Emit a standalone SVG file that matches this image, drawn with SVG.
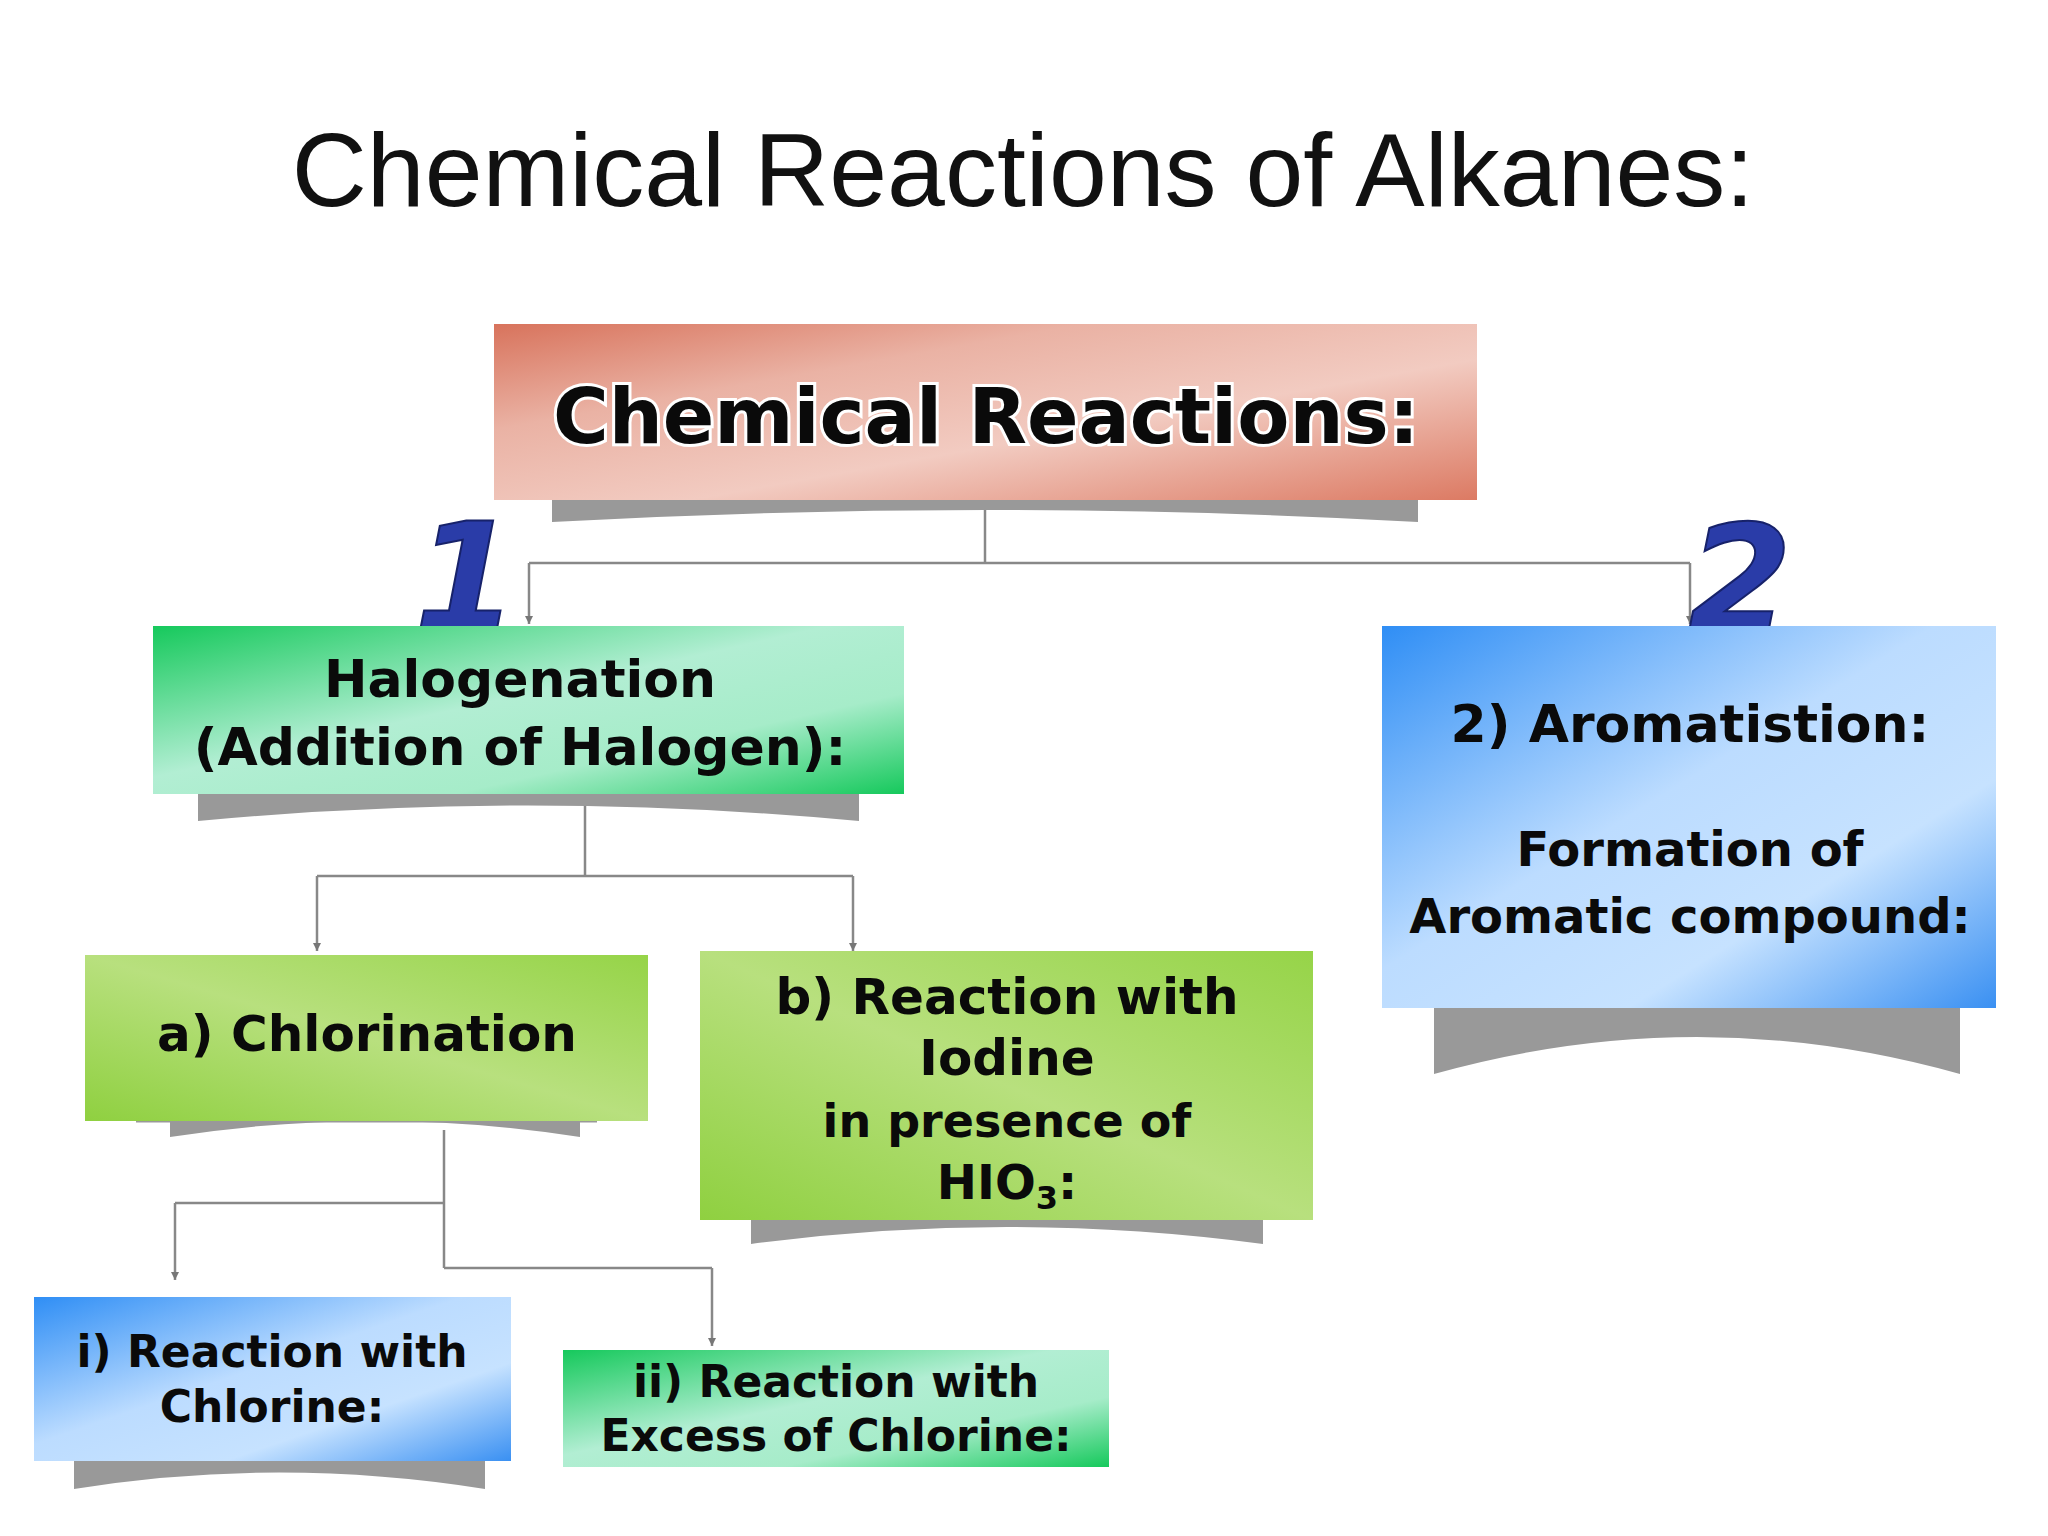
<svg xmlns="http://www.w3.org/2000/svg" width="2048" height="1536" viewBox="0 0 2048 1536">
<defs>
<linearGradient id="gRed" x1="0" y1="0" x2="1" y2="1"><stop offset="0" stop-color="#d8735c"/><stop offset="0.3" stop-color="#eab2a4"/><stop offset="0.6" stop-color="#f2cbc1"/><stop offset="1" stop-color="#dc7a63"/></linearGradient>
<linearGradient id="gGreen" x1="0" y1="0" x2="1" y2="1"><stop offset="0" stop-color="#16c95c"/><stop offset="0.45" stop-color="#b2eed3"/><stop offset="0.7" stop-color="#a6ecc9"/><stop offset="1" stop-color="#16c95c"/></linearGradient>
<linearGradient id="gLime" x1="0" y1="0" x2="1" y2="1"><stop offset="0" stop-color="#d8f0b0"/><stop offset="0.5" stop-color="#a6da5c"/><stop offset="1" stop-color="#dcf2be"/></linearGradient>
<linearGradient id="gLime2" x1="1" y1="0" x2="0" y2="1"><stop offset="0" stop-color="#96d448"/><stop offset="0.5" stop-color="#b8e07e"/><stop offset="1" stop-color="#8fd040"/></linearGradient>
<linearGradient id="gBlue" x1="0" y1="0" x2="1" y2="1"><stop offset="0" stop-color="#2f8ef5"/><stop offset="0.45" stop-color="#bcdcff"/><stop offset="0.7" stop-color="#c6e2ff"/><stop offset="1" stop-color="#3a90f2"/></linearGradient>
<marker id="arr" viewBox="0 0 10 10" refX="10" refY="5" markerWidth="8" markerHeight="8" orient="auto" markerUnits="userSpaceOnUse"><path d="M0,0 L10,5 L0,10 z" fill="#777"/></marker>
</defs>
<style>
.t{font-family:"DejaVu Sans",Verdana,sans-serif;font-weight:bold;fill:#0a0a0a;text-anchor:middle}
.sh{fill:#999}
.c{fill:none;stroke:#888;stroke-width:2.5}
.num{font-family:"DejaVu Sans",sans-serif;font-weight:bold;font-style:italic;fill:#2a3ca8;stroke:#17226a;stroke-width:2;text-anchor:middle}
</style>
<rect width="2048" height="1536" fill="#fff"/>
<text x="1023" y="206" font-family="Liberation Sans, Arial, sans-serif" font-size="104" text-anchor="middle" fill="#111">Chemical Reactions of Alkanes:</text>
<g id="connectors">
<path class="c" d="M985,500 V563"/>
<path class="c" d="M529,563 H1690"/>
<path class="c" d="M529,563 V624" marker-end="url(#arr)"/>
<path class="c" d="M1690,563 V624" marker-end="url(#arr)"/>
<path class="c" d="M585,802 V876 M317,876 H853"/>
<path class="c" d="M317,876 V951" marker-end="url(#arr)"/>
<path class="c" d="M853,876 V951" marker-end="url(#arr)"/>
<path class="c" d="M444,1130 V1268 M444,1203 H175 M444,1268 H712"/>
<path class="c" d="M175,1203 V1280" marker-end="url(#arr)"/>
<path class="c" d="M712,1268 V1346" marker-end="url(#arr)"/>
</g>
<g id="n1"><text class="num" x="466" y="630" font-size="150">1</text></g>
<g id="n2"><text class="num" x="1740" y="632" font-size="150">2</text></g>
<g id="main">
<path class="sh" d="M552,500 H1418 V522 Q985,498 552,522 Z"/>
<rect x="494" y="324" width="983" height="176" fill="url(#gRed)"/>
<text class="t" x="986" y="443" font-size="76" style="stroke:#fff;stroke-width:6;paint-order:stroke">Chemical Reactions:</text>
</g>
<g id="halogenation">
<path class="sh" d="M198,794 H859 V821 Q528,790 198,821 Z"/>
<rect x="153" y="626" width="751" height="168" fill="url(#gGreen)"/>
<text class="t" x="520" y="697" font-size="52">Halogenation</text>
<text class="t" x="520" y="765" font-size="52">(Addition of Halogen):</text>
</g>
<g id="aromatisation">
<path class="sh" d="M1434,1008 H1960 V1074 Q1697,1000 1434,1074 Z"/>
<rect x="1382" y="626" width="614" height="382" fill="url(#gBlue)"/>
<text class="t" x="1690" y="742" font-size="52">2) Aromatistion:</text>
<text class="t" x="1690" y="866" font-size="48">Formation of</text>
<text class="t" x="1690" y="933" font-size="48">Aromatic compound:</text>
</g>
<g id="chlorination">
<path class="sh" d="M170,1121 H580 V1137 Q375,1105 170,1137 Z"/>
<line x1="136" y1="1121" x2="597" y2="1121" stroke="#999" stroke-width="3"/>
<rect x="85" y="955" width="563" height="166" fill="url(#gLime2)"/>
<text class="t" x="367" y="1051" font-size="50">a) Chlorination</text>
</g>
<g id="iodine">
<path class="sh" d="M751,1220 H1263 V1244 Q1007,1210 751,1244 Z"/>
<rect x="700" y="951" width="613" height="269" fill="url(#gLime2)"/>
<text class="t" x="1007" y="1014" font-size="50">b) Reaction with</text>
<text class="t" x="1007" y="1075" font-size="50">Iodine</text>
<text class="t" x="1007" y="1137" font-size="46">in presence of</text>
<text class="t" x="1007" y="1199" font-size="48">HIO<tspan font-size="32" dy="10">3</tspan><tspan dy="-10">:</tspan></text>
</g>
<g id="chlorine">
<path class="sh" d="M74,1461 H485 V1489 Q279,1456 74,1489 Z"/>
<rect x="34" y="1297" width="477" height="164" fill="url(#gBlue)"/>
<text class="t" x="272" y="1367" font-size="44">i) Reaction with</text>
<text class="t" x="272" y="1422" font-size="44">Chlorine:</text>
</g>
<g id="excess">
<rect x="563" y="1350" width="546" height="117" fill="url(#gGreen)"/>
<text class="t" x="836" y="1397" font-size="44">ii) Reaction with</text>
<text class="t" x="836" y="1451" font-size="44">Excess of Chlorine:</text>
</g>
</svg>
